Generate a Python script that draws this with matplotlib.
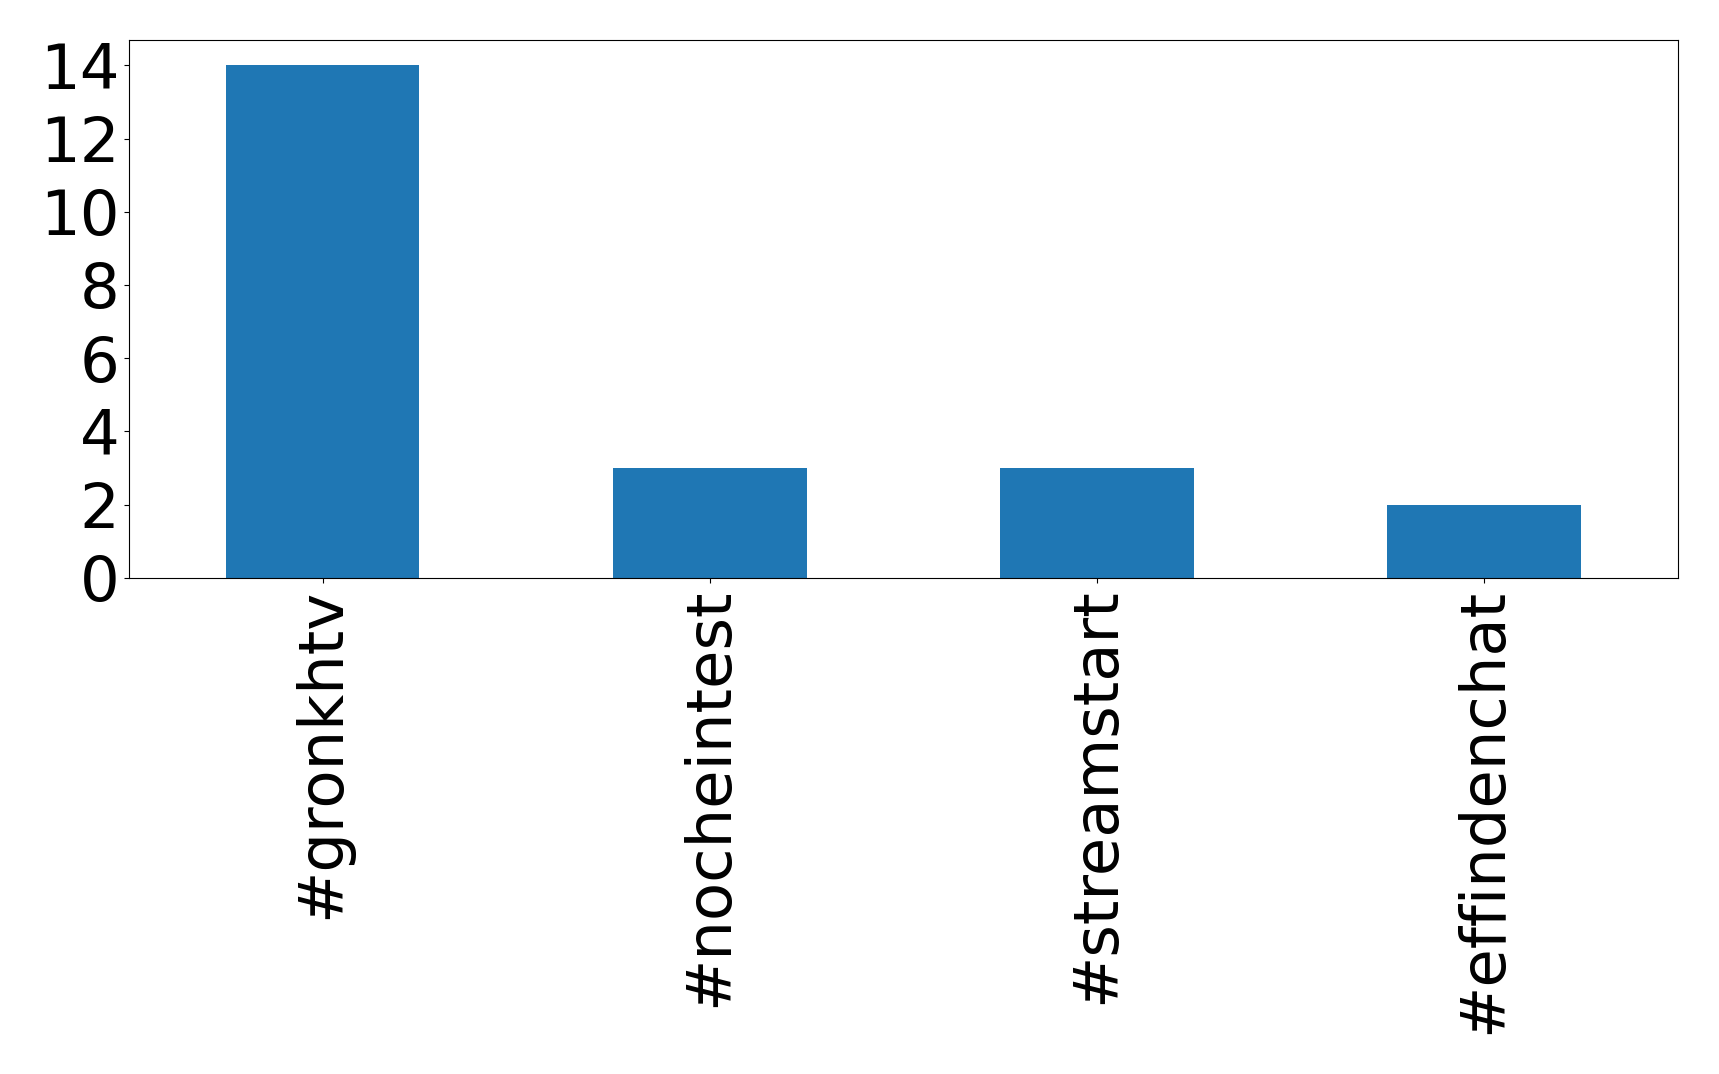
import matplotlib
matplotlib.use("Agg")
import matplotlib.pyplot as plt

hashtags = ["#gronkhtv", "#nocheintest", "#streamstart", "#effindenchat"]
counts = [14, 3, 3, 2]

fig = plt.figure(figsize=(17.19, 10.74), dpi=100)
ax = fig.add_axes([0.075, 0.462, 0.901, 0.501])

x = list(range(len(hashtags)))
ax.bar(x, counts, width=0.5, color="#1f77b4")
ax.set_xlim(-0.5, len(hashtags) - 0.5)
ax.set_ylim(0, 14.7)
ax.set_yticks(range(0, 15, 2))
ax.set_xticks(x)
ax.set_xticklabels(hashtags, rotation=90)
ax.tick_params(labelsize=45)

fig.savefig("out.png", dpi=100)
